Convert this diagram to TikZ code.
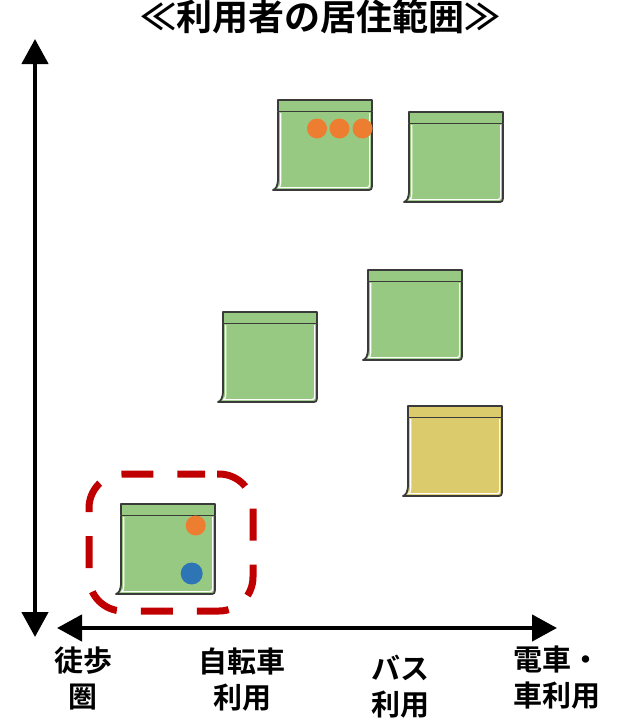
\documentclass[tikz,border=0pt]{standalone}
\usepackage{fontspec}
\usetikzlibrary{arrows.meta}
\newfontfamily\jpb{Noto Sans CJK JP Bold}
\definecolor{notegreen}{HTML}{98C983}
\definecolor{noteyellow}{HTML}{DCCB6C}
\definecolor{notestroke}{HTML}{3A3A3A}
\definecolor{dotorange}{HTML}{ED7D31}
\definecolor{dotblue}{HTML}{2E75B6}
\definecolor{zonered}{HTML}{C00000}
\tikzset{
  axis/.style={line width=4.5pt, -{Triangle[width=26pt,length=25pt]}},
  axislabel/.style={font=\jpb\fontsize{29}{36}\selectfont, align=center, inner sep=0pt},
  outline/.style={draw=notestroke, line width=1.8pt, line join=round},
  zone/.style={draw=zonered, line width=7pt, dash pattern=on 32pt off 24pt, dash phase=44pt, rounded corners=34pt},
  pics/stickynote/.style={code={
    \path[fill=#1] (0,0) -- (94,0) -- (94,86) .. controls (94,89) and (93,90) .. (91,90)
       -- (-5,90) .. controls (-2,89) and (0,86) .. (0,78) -- cycle;
    \draw[white, line width=1.2pt] (2.8,13) -- (2.8,80) .. controls (2.8,85.5) and (1.8,87.3) .. (0.5,87.6)
       -- (89,87.6) .. controls (91,87.6) and (91.6,86.5) .. (91.6,84) -- (91.6,13);
    \draw[outline] (0,0) rectangle (94,11.5);
    \draw[outline] (0,11.5) -- (0,78) .. controls (0,86) and (-2,89) .. (-5,90)
       -- (91,90) .. controls (93,90) and (94,89) .. (94,86) -- (94,11.5);
  }}
}
\begin{document}
\begin{tikzpicture}[x=1pt,y=-1pt]
\useasboundingbox (0,0) rectangle (617,726);
% title
\node[font=\jpb\fontsize{36}{40}\selectfont, inner sep=0pt] (title) at (320,17) {≪利用者の居住範囲≫};
% axes
\coordinate (ytop) at (35,39);
\coordinate (ybot) at (35,637);
\coordinate (xleft) at (57,628);
\coordinate (xright) at (557,628);
\draw[axis] (35,300) -- (ytop);
\draw[axis] (35,300) -- (ybot);
\draw[axis] (300,628) -- (xleft);
\draw[axis] (300,628) -- (xright);
% notes
\pic (n1) at (278,100) {stickynote=notegreen};
\pic (n2) at (409,112) {stickynote=notegreen};
\pic (n3) at (223,312) {stickynote=notegreen};
\pic (n4) at (368,270) {stickynote=notegreen};
\pic (n5) at (408,406) {stickynote=noteyellow};
\pic (n6) at (121,504) {stickynote=notegreen};
% dots
\fill[dotorange] (317,128.5) circle (10);
\fill[dotorange] (339.5,128.5) circle (10);
\fill[dotorange] (362.5,128.5) circle (10);
\fill[dotorange] (195.7,525.5) circle (10);
\fill[dotblue] (191.7,573.5) circle (11);
% dashed zone
\draw[zone] (171,474) -- (253,474) -- (253,611) -- (89,611) -- (89,474) -- cycle;
% axis labels
\node[axislabel] (l1) at (83,678) {徒歩\\圏};
\node[axislabel] (l2) at (242,680) {自転車\\利用};
\node[axislabel] (l3) at (400,687) {バス\\利用};
\node[axislabel] (l4) at (557,678) {電車・\\車利用};
\end{tikzpicture}
\end{document}
